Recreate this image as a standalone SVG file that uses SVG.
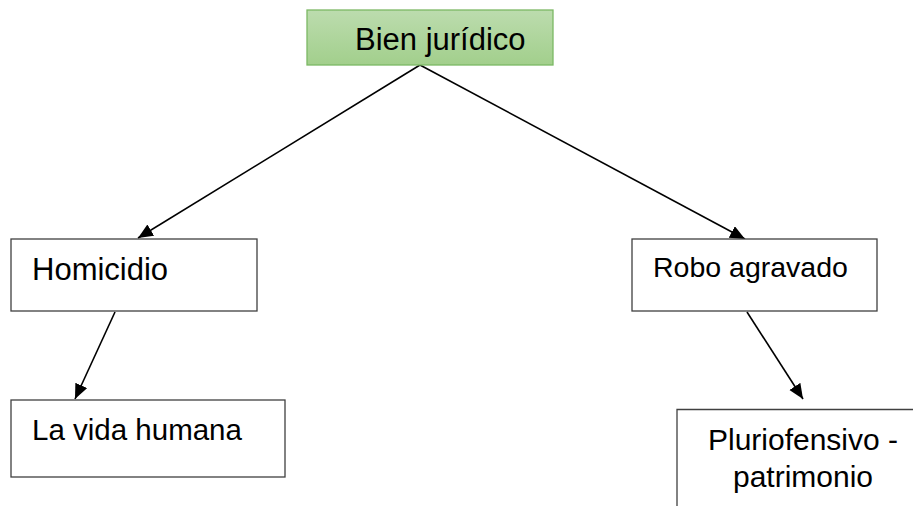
<svg xmlns="http://www.w3.org/2000/svg" width="913" height="506" viewBox="0 0 913 506">
<defs>
<linearGradient id="g" x1="0" y1="0" x2="0" y2="1">
<stop offset="0" stop-color="#bcdcae"/>
<stop offset="1" stop-color="#a2cf8c"/>
</linearGradient>
<marker id="ah" markerUnits="userSpaceOnUse" markerWidth="16" markerHeight="14" refX="15" refY="6.5" orient="auto">
<path d="M0,0 L15,6.5 L0,13 z" fill="#000"/>
</marker>
</defs>
<style>
.box{fill:#fff;stroke:#404040;stroke-width:1.3}
.t{font-family:"Liberation Sans",Arial,sans-serif;fill:#000}
.c{stroke:#000;stroke-width:1.6;fill:none;marker-end:url(#ah)}
</style>
<rect width="913" height="506" fill="#fff"/>
<g id="connectors">
<line class="c" x1="420" y1="65" x2="138" y2="238"/>
<line class="c" x1="420" y1="65" x2="745" y2="239"/>
<line class="c" x1="115" y1="312" x2="75" y2="399"/>
<line class="c" x1="747" y1="312" x2="803" y2="399"/>
</g>
<g id="bien">
<rect x="307" y="10" width="246" height="55" fill="url(#g)" stroke="#7cb864" stroke-width="1.3"/>
<text class="t" x="355" y="50" font-size="31">Bien jurídico</text>
</g>
<g id="homicidio">
<rect class="box" x="11" y="239" width="246" height="72"/>
<text class="t" x="32" y="280" font-size="31">Homicidio</text>
</g>
<g id="robo">
<rect class="box" x="632" y="239" width="245" height="72"/>
<text class="t" x="653" y="277" font-size="28.5">Robo agravado</text>
</g>
<g id="vida">
<rect class="box" x="11" y="400" width="274" height="77"/>
<text class="t" x="32" y="440" font-size="29.5">La vida humana</text>
</g>
<g id="pluri">
<path d="M677,506 L677,409.5 L913,409.5" fill="none" stroke="#404040" stroke-width="1.3"/>
<text class="t" x="803" y="450" font-size="30" text-anchor="middle">Pluriofensivo -</text>
<text class="t" x="803" y="487" font-size="30" text-anchor="middle">patrimonio</text>
</g>
</svg>
